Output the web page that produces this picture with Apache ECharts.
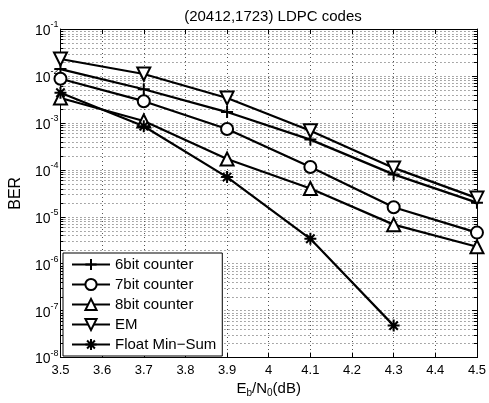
<!DOCTYPE html>
<html>
<head>
<meta charset="utf-8">
<script src="https://cdn.jsdelivr.net/npm/echarts@6/dist/echarts.min.js"></script>
<style>html,body{margin:0;padding:0;background:#fff;}#c{width:489px;height:403px;}</style>
</head>
<body>
<div id="c"></div>
<script>
const xValues = [3.5, 3.7, 3.9, 4.1, 4.3, 4.5];
const ber6bit = [1.4e-2, 5.2e-3, 1.7e-3, 4.4e-4, 8.0e-5, 2.0e-5];
const ber7bit = [8.7e-3, 2.9e-3, 7.4e-4, 1.15e-4, 1.6e-5, 4.6e-6];
const ber8bit = [3.4e-3, 1.1e-3, 1.7e-4, 4.0e-5, 6.8e-6, 2.3e-6];
const berEM = [2.3e-2, 1.1e-2, 3.4e-3, 6.8e-4, 1.1e-4, 2.5e-5];
const berFloat = [4.4e-3, 8.5e-4, 7.0e-5, 3.4e-6, 4.8e-8];
const seriesNames = ['6bit counter', '7bit counter', '8bit counter', 'EM', 'Float Min\u2212Sum'];
const minorMultipliers = [2, 3, 4, 5, 6, 7, 8, 9];
const decadeExps = [-8, -7, -6, -5, -4, -3, -2];

const FONT = '"Liberation Sans", Arial, Helvetica, sans-serif';
const gridLine = { color: '#555', width: 1, type: [1, 3] };

function pair(arr) { return arr.map((v, i) => [xValues[i], v]); }

const plusPath = 'path://M10,0 L10,20 M0,10 L20,10';
const starPath = 'path://M10,0 L10,20 M0,10 L20,10 M3,3 L17,17 M3,17 L17,3';

function mk(name, data, symbol, size, rotate, fill) {
  return {
    name: name, type: 'line', data: pair(data),
    symbol: symbol, symbolSize: size, symbolRotate: rotate || 0,
    lineStyle: { color: '#000', width: 2.2 },
    itemStyle: { color: fill, borderColor: '#000', borderWidth: 2 },
    emphasis: { disabled: true },
    z: 3
  };
}

const series = [
  mk(seriesNames[0], ber6bit, plusPath, 12, 0, '#000'),
  mk(seriesNames[1], ber7bit, 'circle', 12, 0, '#fff'),
  mk(seriesNames[2], ber8bit, 'triangle', 13, 0, '#fff'),
  mk(seriesNames[3], berEM, 'triangle', 13, 180, '#fff'),
  mk(seriesNames[4], berFloat, starPath, 12, 0, '#000')
];

const chart = echarts.init(document.getElementById('c'));
chart.setOption({
  animation: false,
  backgroundColor: '#fff',
  title: {
    text: '(20412,1723) LDPC codes', left: 268, top: 4, textAlign: 'center',
    textStyle: { fontFamily: FONT, fontSize: 15, fontWeight: 'normal', color: '#000' }
  },
  grid: { left: 57, right: 10, top: 29, bottom: 45, show: false },
  legend: {
    data: seriesNames, orient: 'vertical', left: 63, top: 253, z: 10,
    backgroundColor: '#fff', borderColor: '#000', borderWidth: 1,
    padding: [4, 6, 4, 8], itemGap: 5, itemWidth: 38, itemHeight: 14,
    textStyle: { fontFamily: FONT, fontSize: 15, color: '#000' },
    selectedMode: false
  },
  xAxis: [{
    type: 'value', min: 3.5, max: 4.5, interval: 0.1,
    name: 'E{sub|b}/N{sub|0}(dB)', nameLocation: 'middle', nameGap: 22,
    nameTextStyle: { fontFamily: FONT, fontSize: 15, color: '#000',
      rich: { sub: { fontSize: 10, fontFamily: FONT, color: '#000', verticalAlign: 'bottom', padding: [8, 0, 0, 0] } } },
    axisLine: { lineStyle: { color: '#000', width: 1 } },
    axisTick: { inside: true, length: 5, lineStyle: { color: '#000' } },
    axisLabel: { fontFamily: FONT, fontSize: 13, color: '#000', margin: 6 },
    splitLine: { show: true, lineStyle: gridLine }
  }, {
    type: 'value', min: 3.5, max: 4.5, interval: 0.1, position: 'top',
    axisLine: { lineStyle: { color: '#000', width: 1 } },
    axisTick: { inside: true, length: 5, lineStyle: { color: '#000' } },
    axisLabel: { show: false }, splitLine: { show: false }
  }],
  yAxis: [{
    type: 'log', logBase: 10, min: 1e-8, max: 1e-1, splitNumber: 7,
    name: 'BER', nameLocation: 'middle', nameGap: 36, nameRotate: 90,
    nameTextStyle: { fontFamily: FONT, fontSize: 16, color: '#000' },
    axisLine: { lineStyle: { color: '#000', width: 1 } },
    axisTick: { inside: true, length: 5, lineStyle: { color: '#000' } },
    axisLabel: {
      fontFamily: FONT, fontSize: 13, color: '#000', margin: 2,
      formatter: v => '{b|10}{s|' + Math.round(Math.log10(v)) + '}',
      rich: {
        b: { fontFamily: FONT, fontSize: 14, color: '#000', verticalAlign: 'bottom', lineHeight: 18 },
        s: { fontFamily: FONT, fontSize: 9, color: '#000', verticalAlign: 'top', lineHeight: 18 }
      }
    },
    splitLine: { show: true, lineStyle: gridLine }
  }, {
    type: 'log', logBase: 10, min: 1e-8, max: 1e-1, splitNumber: 7, position: 'right',
    axisLine: { lineStyle: { color: '#000', width: 1 } },
    axisTick: { inside: true, length: 5, lineStyle: { color: '#000' } },
    axisLabel: { show: false }, splitLine: { show: false }
  }],
  series: series
});

// minor log grid lines (decoration), positioned through the library's own scales
const x0 = chart.convertToPixel({ xAxisIndex: 0 }, 3.5);
const x1 = chart.convertToPixel({ xAxisIndex: 0 }, 4.5);
const minorGraphics = [];
decadeExps.forEach(e => minorMultipliers.forEach(m => {
  const y = Math.round(chart.convertToPixel({ yAxisIndex: 0 }, m * Math.pow(10, e))) + 0.5;
  minorGraphics.push({ type: 'line', silent: true, z: 0,
    shape: { x1: x0, y1: y, x2: x1, y2: y }, style: { stroke: '#555', lineWidth: 1, lineDash: [1, 3] } });
  minorGraphics.push({ type: 'line', silent: true, z: 0,
    shape: { x1: x0, y1: y, x2: x0 + 3, y2: y }, style: { stroke: '#000', lineWidth: 1 } });
  minorGraphics.push({ type: 'line', silent: true, z: 0,
    shape: { x1: x1 - 3, y1: y, x2: x1, y2: y }, style: { stroke: '#000', lineWidth: 1 } });
}));
chart.setOption({ graphic: minorGraphics });
</script>
</body>
</html>
